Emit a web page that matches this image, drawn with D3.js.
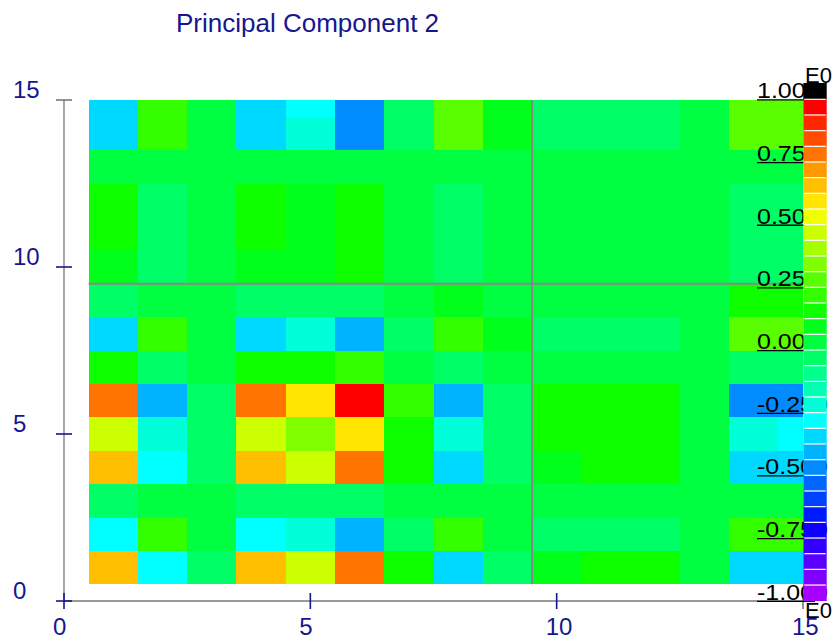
<!DOCTYPE html>
<html>
<head>
<meta charset="utf-8">
<script src="https://cdn.jsdelivr.net/npm/d3@7"></script>
<style>
  html, body { margin: 0; padding: 0; background: #ffffff; }
  svg { display: block; font-family: "Liberation Sans", Arial, sans-serif; }
</style>
</head>
<body>
<svg id="chart" width="835" height="638"></svg>
<script>
// ---------------- data ----------------
const chartTitle = "Principal Component 2";
const xCenters = [1, 2, 3, 4, 5, 6, 7, 8, 9, 10, 11, 12, 13, 14, 15];
const yCenters = [1, 2, 3, 4, 5, 6, 7, 8, 9, 10, 11, 12, 13, 14, 15];
// one array per row (row y = 1 at the bottom)
const row01 = [0.66, -0.28, -0.03, 0.66, 0.47, 0.78, 0.16, -0.34, -0.03, 0.09, 0.16, 0.16, 0.03, -0.34, -0.34];
const row02 = [-0.28, 0.22, 0.03, -0.28, -0.22, -0.41, -0.03, 0.22, 0.03, -0.03, -0.03, -0.03, 0.03, 0.22, 0.22];
const row03 = [-0.03, 0.03, 0.03, -0.03, -0.03, -0.03, 0.03, 0.03, 0.03, 0.03, 0.03, 0.03, 0.03, 0.03, 0.03];
const row04 = [0.66, -0.28, -0.03, 0.66, 0.47, 0.78, 0.16, -0.34, -0.03, 0.09, 0.16, 0.16, 0.03, -0.34, -0.34];
const row05 = [0.47, -0.22, -0.03, 0.47, 0.34, 0.59, 0.16, -0.22, -0.03, 0.16, 0.16, 0.16, 0.03, -0.22, -0.28];
const row06 = [0.78, -0.41, -0.03, 0.78, 0.59, 0.97, 0.22, -0.41, -0.03, 0.16, 0.16, 0.16, 0.03, -0.47, -0.47];
const row07 = [0.16, -0.03, 0.03, 0.16, 0.16, 0.22, 0.03, -0.03, 0.03, 0.03, 0.03, 0.03, 0.03, -0.03, -0.03];
const row08 = [-0.34, 0.22, 0.03, -0.34, -0.22, -0.41, -0.03, 0.22, 0.09, -0.03, -0.03, -0.03, 0.03, 0.28, 0.28];
const row09 = [-0.03, 0.03, 0.03, -0.03, -0.03, -0.03, 0.03, 0.09, 0.03, 0.03, 0.03, 0.03, 0.03, 0.16, 0.16];
const row10 = [0.09, -0.03, 0.03, 0.09, 0.09, 0.16, 0.03, -0.03, 0.03, 0.03, 0.03, 0.03, 0.03, -0.03, -0.03];
const row11 = [0.16, -0.03, 0.03, 0.16, 0.09, 0.16, 0.03, -0.03, 0.03, 0.03, 0.03, 0.03, 0.03, -0.03, -0.03];
const row12 = [0.16, -0.03, 0.03, 0.16, 0.09, 0.16, 0.03, -0.03, 0.03, 0.03, 0.03, 0.03, 0.03, -0.03, -0.03];
const row13 = [0.03, 0.03, 0.03, 0.03, 0.03, 0.03, 0.03, 0.03, 0.03, 0.03, 0.03, 0.03, 0.03, 0.03, 0.03];
const row14 = [-0.34, 0.22, 0.03, -0.34, -0.22, -0.47, -0.03, 0.28, 0.09, -0.03, -0.03, -0.03, 0.03, 0.28, 0.28];
const row15 = [-0.34, 0.22, 0.03, -0.34, -0.28, -0.47, -0.03, 0.28, 0.09, -0.03, -0.03, -0.03, 0.03, 0.28, 0.28];
const rows = [row01, row02, row03, row04, row05, row06, row07, row08, row09, row10, row11, row12, row13, row14, row15];
const axisTicks = [0, 5, 10, 15];
const colorTicks = [1.0, 0.75, 0.5, 0.25, 0.0, -0.25, -0.5, -0.75, -1.0];
const colorBands = 32;
const crossAt = [9.5, 9.5];

// ---------------- drawing ----------------
const svg = d3.select("#chart");
const navy = "#16168f";
const axisGray = "#777777";

const x = d3.scaleLinear().domain([0, 15]).range([64, 803]);
const y = d3.scaleLinear().domain([0, 15]).range([601, 100]);
const cb = d3.scaleLinear().domain([-1, 1]).range([600.7, 99.3]);

function bandOf(v) {
  return Math.max(0, Math.min(colorBands - 1, Math.floor((1 - v) / 2 * colorBands)));
}
function bandColor(k) {
  return d3.hsl(k * 9, 1, 0.5).formatHex();
}
const color = v => bandColor(bandOf(v));

// clip region = plot area
svg.append("defs").append("clipPath").attr("id", "plotClip")
  .append("rect")
  .attr("x", x(0)).attr("y", y(15))
  .attr("width", x(15) - x(0)).attr("height", y(0) - y(15));

const cells = [];
rows.forEach((r, i) => r.forEach((v, j) => cells.push({ cx: xCenters[j], cy: yCenters[i], v })));

svg.append("g").attr("clip-path", "url(#plotClip)")
  .selectAll("rect").data(cells).join("rect")
  .attr("x", d => x(d.cx - 0.5))
  .attr("y", d => y(d.cy + 0.5))
  .attr("width", d => x(d.cx + 0.5) - x(d.cx - 0.5))
  .attr("height", d => y(d.cy - 0.5) - y(d.cy + 0.5))
  .attr("fill", d => color(d.v))
  .attr("shape-rendering", "crispEdges");

// crosshair lines
svg.append("line")
  .attr("x1", x(0.5)).attr("x2", x(15))
  .attr("y1", y(crossAt[1])).attr("y2", y(crossAt[1]))
  .attr("stroke", "#888888").attr("stroke-width", 2);
svg.append("line")
  .attr("x1", x(crossAt[0])).attr("x2", x(crossAt[0]))
  .attr("y1", y(15)).attr("y2", y(0.5))
  .attr("stroke", "#888888").attr("stroke-width", 2);

// axes lines
svg.append("line").attr("x1", x(0)).attr("x2", x(0)).attr("y1", y(15)).attr("y2", y(0))
  .attr("stroke", axisGray).attr("stroke-width", 1.3);
svg.append("line").attr("x1", x(0)).attr("x2", x(15)).attr("y1", y(0)).attr("y2", y(0))
  .attr("stroke", axisGray).attr("stroke-width", 1.3);

// y ticks
const gy = svg.append("g");
gy.selectAll("line").data(axisTicks).join("line")
  .attr("x1", x(0) - 8).attr("x2", x(0) + 8)
  .attr("y1", d => y(d)).attr("y2", d => y(d))
  .attr("stroke", d => d === 15 ? axisGray : navy).attr("stroke-width", 1.6);
gy.selectAll("text").data(axisTicks).join("text")
  .attr("x", 13).attr("y", d => y(d) - 2.5)
  .attr("fill", navy).attr("font-size", 24)
  .text(d => d);

// x ticks
const gx = svg.append("g");
gx.selectAll("line").data(axisTicks).join("line")
  .attr("x1", d => x(d)).attr("x2", d => x(d))
  .attr("y1", y(0) - 8).attr("y2", y(0) + 8)
  .attr("stroke", d => d === 15 ? axisGray : navy).attr("stroke-width", 1.6);
gx.selectAll("text").data(axisTicks).join("text")
  .attr("x", d => x(d) - 11).attr("y", 635)
  .attr("fill", navy).attr("font-size", 24)
  .text(d => d);

// title
svg.append("text").attr("x", 176).attr("y", 32)
  .attr("fill", navy).attr("font-size", 26)
  .text(chartTitle);

// colour bar labels (drawn beneath the bar)
const fmt = d => d3.format(".3f")(d).replace("\u2212", "-");
const gl = svg.append("g");
gl.selectAll("text").data(colorTicks).join("text")
  .attr("transform", d => `translate(757,${cb(d) - 1}) scale(1,0.9)`)
  .attr("fill", "#000").attr("font-size", 25)
  .text(fmt);
gl.selectAll("line").data(colorTicks).join("line")
  .attr("x1", 757).attr("x2", 815)
  .attr("y1", d => cb(d) + 0.6).attr("y2", d => cb(d) + 0.6)
  .attr("stroke", "#000").attr("stroke-width", 1.3);

// colour bar
const barX = 803.3, barW = 23.4;
const bandH = (cb(-1) - cb(1)) / colorBands;
const bandIdx = d3.range(colorBands);
const gb = svg.append("g");
gb.append("rect").attr("x", barX).attr("y", 83).attr("width", barW).attr("height", cb(1) - 83)
  .attr("fill", "#000");
gb.selectAll("rect.band").data(bandIdx).join("rect").attr("class", "band")
  .attr("x", barX).attr("y", k => cb(1) + k * bandH)
  .attr("width", barW).attr("height", bandH + 0.3)
  .attr("fill", k => bandColor(k));
gb.selectAll("line").data(bandIdx).join("line")
  .attr("x1", barX + 1).attr("x2", barX + barW - 1)
  .attr("y1", k => cb(1) + k * bandH).attr("y2", k => cb(1) + k * bandH)
  .attr("stroke", "#fff").attr("stroke-width", 1.2);

// exponent labels
svg.append("text").attr("x", 805).attr("y", 83).attr("font-size", 22).attr("fill", "#000").text("E0");
svg.append("text").attr("x", 805).attr("y", 618).attr("font-size", 22).attr("fill", "#000").text("E0");
</script>
</body>
</html>
